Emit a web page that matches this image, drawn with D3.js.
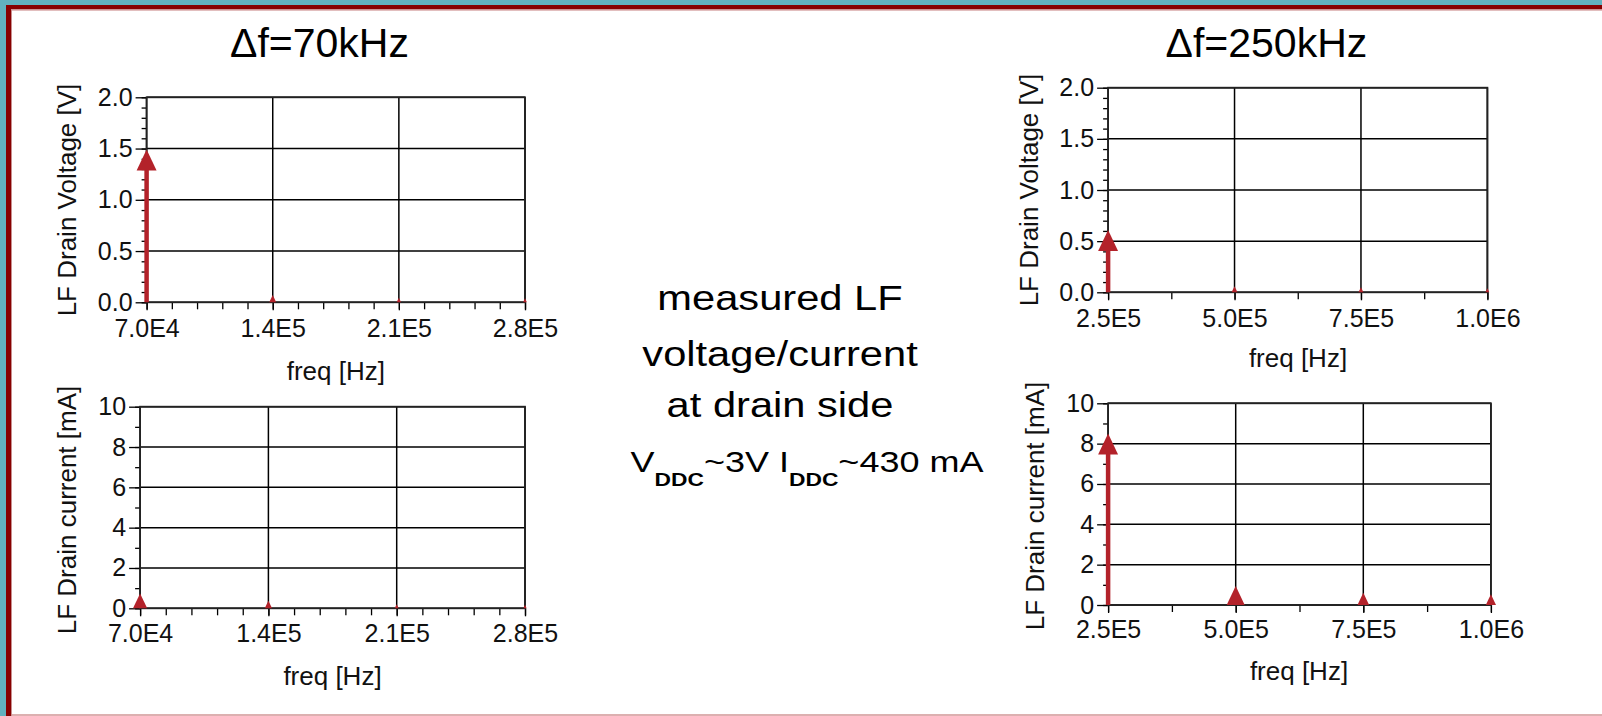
<!DOCTYPE html>
<html>
<head>
<meta charset="utf-8">
<script src="https://cdn.jsdelivr.net/npm/d3@7"></script>
<style>
  html, body { margin: 0; padding: 0; background: #fff; }
  svg { display: block; font-family: "Liberation Sans", Arial, sans-serif; }
</style>
</head>
<body>
<svg id="slide" width="1602" height="716"></svg>
<script>
// ---------------------------------------------------------------------------
// Data
// ---------------------------------------------------------------------------
const freqs70 = [7.0e4, 1.4e5, 2.1e5, 2.8e5];
const volt70 = [1.49, 0.071, 0.045, 0.039];
const curr70 = [0.74, 0.38, 0.20, 0.17];

const freqs250 = [2.5e5, 5.0e5, 7.5e5, 1.0e6];
const volt250 = [0.61, 0.06, 0.05, 0.04];
const curr250 = [8.5, 0.94, 0.61, 0.53];

const voltTicks = [0, 0.5, 1.0, 1.5, 2.0];
const currTicks = [0, 2, 4, 6, 8, 10];

const titles = ["\u0394f=70kHz", "\u0394f=250kHz"];
const centerLines = ["measured LF", "voltage/current", "at drain side"];

// ---------------------------------------------------------------------------
// Layout
// ---------------------------------------------------------------------------
const svg = d3.select("#slide");
const red = "#b3222a";

const panels = [
    {freqs: freqs70, vals: volt70, ticks: voltTicks, fmt: d3.format(".1f"), yMinor: 0.1, xMinor: 1.4e4,
     box: [146.6, 525, 97.3, 302.3], ylabel: "LF Drain Voltage [V]", ylx: 76, yly: 200,
     xlab: [335.8, 380], tickBase: 337},
    {freqs: freqs70, vals: curr70, ticks: currTicks, fmt: d3.format("d"), yMinor: 1, xMinor: 1.4e4,
     box: [140.1, 525, 406.7, 608.3], ylabel: "LF Drain current [mA]", ylx: 76, yly: 510,
     xlab: [332.5, 685], tickBase: 641.7},
    {freqs: freqs250, vals: volt250, ticks: voltTicks, fmt: d3.format(".1f"), yMinor: 0.1, xMinor: 1.25e5,
     box: [1108.1, 1487.4, 87.7, 292.3], ylabel: "LF Drain Voltage [V]", ylx: 1038, yly: 190,
     xlab: [1298, 366.7], tickBase: 326.7},
    {freqs: freqs250, vals: curr250, ticks: currTicks, fmt: d3.format("d"), yMinor: 1, xMinor: 1.25e5,
     box: [1108.1, 1490.9, 403.3, 605], ylabel: "LF Drain current [mA]", ylx: 1044, yly: 506,
     xlab: [1299, 680], tickBase: 638.3}
];

function sci(d) {
    return d.toExponential(1).toUpperCase().replace("+", "");
}

// ---------------------------------------------------------------------------
// Slide frame
// ---------------------------------------------------------------------------
svg.append("rect").attr("x", 0).attr("y", 0).attr("width", 1602).attr("height", 716).attr("fill", "#fff");
svg.append("rect").attr("x", 0).attr("y", 0).attr("width", 1602).attr("height", 5).attr("fill", "#62b1be");
svg.append("rect").attr("x", 0).attr("y", 0).attr("width", 6).attr("height", 716).attr("fill", "#62b1be");
svg.append("rect").attr("x", 6).attr("y", 5).attr("width", 1596).attr("height", 4.5).attr("fill", "#870000");
svg.append("rect").attr("x", 11).attr("y", 9.5).attr("width", 1591).attr("height", 1.2).attr("fill", "#d6a3a3");
svg.append("rect").attr("x", 6).attr("y", 5).attr("width", 5).attr("height", 711).attr("fill", "#870000");
svg.append("rect").attr("x", 11).attr("y", 10).attr("width", 1).attr("height", 706).attr("fill", "#c98f8f");
svg.append("rect").attr("x", 12).attr("y", 714).attr("width", 1590).attr("height", 2).attr("fill", "#dcb0b0");

// ---------------------------------------------------------------------------
// Panels
// ---------------------------------------------------------------------------
function drawPanel(p) {
    const [x0, x1, y0, y1] = p.box;
    const xs = d3.scaleLinear().domain([p.freqs[0], p.freqs[p.freqs.length - 1]]).range([x0, x1]);
    const ys = d3.scaleLinear().domain([p.ticks[0], p.ticks[p.ticks.length - 1]]).range([y1, y0]);

    const g = svg.append("g");

    // minor ticks
    const yMinorTicks = d3.range(p.ticks[0], p.ticks[p.ticks.length - 1] + p.yMinor / 2, p.yMinor);
    const xMinorTicks = d3.range(p.freqs[0], p.freqs[p.freqs.length - 1] + p.xMinor / 2, p.xMinor);

    g.append("g").attr("transform", "translate(" + x0 + ",0)")
        .call(d3.axisLeft(ys).tickValues(yMinorTicks).tickSize(5).tickFormat(""))
        .call(a => a.select(".domain").remove())
        .selectAll("line").attr("stroke", "#000").attr("stroke-width", 1.3);
    g.append("g").attr("transform", "translate(0," + y1 + ")")
        .call(d3.axisBottom(xs).tickValues(xMinorTicks).tickSize(7).tickFormat(""))
        .call(a => a.select(".domain").remove())
        .selectAll("line").attr("stroke", "#000").attr("stroke-width", 1.3);

    // major ticks + labels
    const yAx = g.append("g").attr("transform", "translate(" + x0 + ",0)")
        .call(d3.axisLeft(ys).tickValues(p.ticks).tickSize(11).tickPadding(3).tickFormat(p.fmt));
    yAx.select(".domain").remove();
    yAx.selectAll("line").attr("stroke", "#000").attr("stroke-width", 1.3);
    yAx.selectAll("text").attr("fill", "#111").style("font-size", "25px")
        .style("font-family", "'Liberation Sans', Arial, sans-serif");

    const xAx = g.append("g").attr("transform", "translate(0," + y1 + ")")
        .call(d3.axisBottom(xs).tickValues(p.freqs).tickSize(8).tickFormat(sci));
    xAx.select(".domain").remove();
    xAx.selectAll("line").attr("stroke", "#000").attr("stroke-width", 1.3);
    xAx.selectAll("text").attr("fill", "#111").style("font-size", "25px")
        .style("font-family", "'Liberation Sans', Arial, sans-serif")
        .attr("dy", null).attr("y", p.tickBase - y1);

    // grid
    g.append("g").selectAll("line").data(p.ticks).join("line")
        .attr("x1", x0).attr("x2", x1).attr("y1", d => ys(d)).attr("y2", d => ys(d))
        .attr("stroke", "#000").attr("stroke-width", 1.5);
    g.append("g").selectAll("line").data(p.freqs).join("line")
        .attr("x1", d => xs(d)).attr("x2", d => xs(d)).attr("y1", y0).attr("y2", y1)
        .attr("stroke", "#000").attr("stroke-width", 1.5);
    g.append("rect").attr("x", x0).attr("y", y0).attr("width", x1 - x0).attr("height", y1 - y0)
        .attr("fill", "none").attr("stroke", "#222").attr("stroke-width", 1.8);

    // spectral arrows
    const arrows = g.append("g").selectAll("g")
        .data(p.freqs.map((f, i) => ({f: f, v: p.vals[i]})))
        .join("g");
    arrows.each(function(d) {
        const x = xs(d.f), tip = ys(d.v), base = ys(0);
        const len = base - tip;
        const h = Math.min(len, 21), w = h * 0.95;
        const a = d3.select(this);
        if (len > h) {
            a.append("line").attr("x1", x).attr("x2", x).attr("y1", base).attr("y2", tip + h - 1)
                .attr("stroke", red).attr("stroke-width", 4.5);
        }
        a.append("path")
            .attr("d", "M" + (x - w / 2) + "," + base + "L" + x + "," + tip + "L" + (x + w / 2) + "," + base + "Z")
            .attr("d", "M" + (x - w / 2) + "," + (tip + h) + "L" + x + "," + tip + "L" + (x + w / 2) + "," + (tip + h) + "Z")
            .attr("fill", red);
    });

    // axis titles
    svg.append("text")
        .attr("transform", "translate(" + p.ylx + "," + p.yly + ") rotate(-90)")
        .attr("text-anchor", "middle").attr("fill", "#111").style("font-size", "26px")
        .text(p.ylabel);
    svg.append("text")
        .attr("x", p.xlab[0]).attr("y", p.xlab[1])
        .attr("text-anchor", "middle").attr("fill", "#111").style("font-size", "26px")
        .text("freq [Hz]");
}

panels.forEach(drawPanel);

// ---------------------------------------------------------------------------
// Titles and note
// ---------------------------------------------------------------------------
svg.append("text").attr("x", 319.5).attr("y", 57.3).attr("text-anchor", "middle")
    .style("font-size", "41px").attr("fill", "#000").text(titles[0]);
svg.append("text").attr("x", 1266.4).attr("y", 56.7).attr("text-anchor", "middle")
    .style("font-size", "41px").attr("fill", "#000").text(titles[1]);

const note = svg.append("g").attr("transform", "translate(780,0) scale(1.19,1)");
const lineY = [310, 366, 416.7];
centerLines.forEach((t, i) => {
    note.append("text").attr("x", 0).attr("y", lineY[i]).attr("text-anchor", "middle")
        .style("font-size", "35px").attr("fill", "#000").text(t);
});

const bias = svg.append("g").attr("transform", "translate(807,0) scale(1.2,1)")
    .append("text").attr("x", 0).attr("y", 471.7).attr("text-anchor", "middle")
    .style("font-size", "30px").attr("fill", "#000");
bias.append("tspan").text("V");
bias.append("tspan").attr("dy", 14).style("font-size", "19px").style("font-weight", "bold").text("DDC");
bias.append("tspan").attr("dy", -14).text("~3V I");
bias.append("tspan").attr("dy", 14).style("font-size", "19px").style("font-weight", "bold").text("DDC");
bias.append("tspan").attr("dy", -14).text("~430 mA");
</script>
</body>
</html>
